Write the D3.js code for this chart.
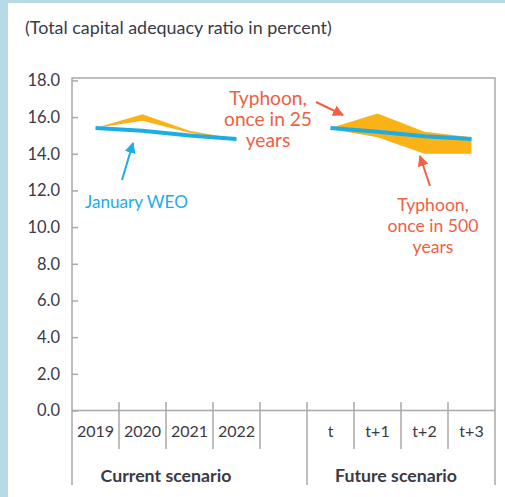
<!DOCTYPE html>
<html><head><meta charset="utf-8">
<script src="https://cdn.jsdelivr.net/npm/d3@7"></script>
<style>html,body{margin:0;padding:0;background:#fff;}svg{display:block;font-family:Lato,"Noto Sans",sans-serif;}</style>
</head><body>
<svg id="c" width="505" height="497"></svg>
<script>
const categories = ["2019","2020","2021","2022","gap","t","t+1","t+2","t+3"];
const catLabels  = ["2019","2020","2021","2022","","t","t+1","t+2","t+3"];
const groups = ["Current scenario","Future scenario"];
const yTicks = [0,2,4,6,8,10,12,14,16,18];
const weoValues      = [15.4, 15.25, 15.0, 14.8, null, 15.4, 15.2, 14.95, 14.8];
const typhoon25      = [15.4, 16.15, 15.25, 14.8, null, 15.4, 16.2, 15.2, 14.9];
const typhoon500     = [15.4, 15.8, 15.15, 14.75, null, 15.35, 14.9, 14.0, 14.0];

const svg = d3.select("#c");
const W=505,H=497;
const L=72,R=495,T=78,B=485;
const y = d3.scaleLinear().domain([0,18]).range([410.5,80.4]);
const x = d3.scaleBand().domain(categories).range([L,R]).padding(0);
const cx = c => x(c)+x.bandwidth()/2;
const grey="#a9a9a9", txt="#3a3a46", orange="#fbb217", blue="#1badE6", red="#ef6045";
const FF="Lato, 'Noto Sans', sans-serif";

svg.append("rect").attr("width",W).attr("height",H).attr("fill","#fff");
svg.append("rect").attr("x",0).attr("y",0).attr("width",8).attr("height",H).attr("fill","#b6dbe7");
svg.append("rect").attr("x",0).attr("y",0).attr("width",W).attr("height",3).attr("fill","#b6dbe7");

function sizeFor(sel,w){const n=sel.node();const m=n.getComputedTextLength();const fs=parseFloat(sel.attr("font-size"));return fs*w/m;}
function fit(sel,w){sel.attr("font-size",sizeFor(sel,w).toFixed(2));}

const title = svg.append("text").attr("x",25).attr("y",28).attr("dy","0.35em").attr("font-size",14).attr("fill",txt).text("(Total capital adequacy ratio in percent)");
fit(title,307);

svg.append("path").attr("d",`M${L},${B}V${T}H${R}V${B}`).attr("fill","none").attr("stroke",grey).attr("stroke-width",1.5);
svg.append("line").attr("x1",L).attr("x2",R).attr("y1",y(0)).attr("y2",y(0)).attr("stroke",grey).attr("stroke-width",1.5);

const ya = svg.append("g").attr("transform",`translate(${L},0)`).call(d3.axisLeft(y).tickValues(yTicks).tickSize(-6).tickPadding(12).tickFormat(d3.format(".1f")));
ya.select(".domain").remove();
ya.selectAll(".tick line").attr("stroke",grey).attr("stroke-width",1.5);
ya.selectAll(".tick text").attr("font-size",16.5).attr("fill",txt).attr("font-family",FF);

const xa = svg.append("g").attr("transform",`translate(0,${y(0)})`).call(d3.axisBottom(x).tickSize(0).tickPadding(15).tickFormat((d,i)=>catLabels[i]));
xa.select(".domain").remove();
xa.selectAll(".tick text").attr("font-size",16).attr("fill",txt).attr("font-family",FF);

categories.forEach((c,i)=>{
  if(i===0) return;
  const long = (c==="t");
  svg.append("line").attr("x1",x(c)).attr("x2",x(c)).attr("y1",402).attr("y2",long?B:449).attr("stroke",grey).attr("stroke-width",1.5);
});

const g1=svg.append("text").attr("x",(x("2019")+x("2022")+x.bandwidth())/2).attr("y",476).attr("dy","0.35em").attr("text-anchor","middle").attr("font-weight","bold").attr("font-size",15).attr("fill",txt).text(groups[0]);
fit(g1,131);
const g2=svg.append("text").attr("x",396).attr("y",476).attr("dy","0.35em").attr("text-anchor","middle").attr("font-weight","bold").attr("font-size",15).attr("fill",txt).text(groups[1]);
fit(g2,122);

const idx = d3.range(categories.length);
const area = d3.area().defined(i=>typhoon25[i]!=null).x(i=>cx(categories[i])).y0(i=>y(typhoon500[i])).y1(i=>y(typhoon25[i]));
svg.append("path").datum(idx).attr("d",area).attr("fill",orange);
const line = d3.line().defined(i=>weoValues[i]!=null).x(i=>cx(categories[i])).y(i=>y(weoValues[i]));
svg.append("path").datum(idx).attr("d",line).attr("fill","none").attr("stroke",blue).attr("stroke-width",4);

const defs=svg.append("defs");
function marker(id,col){defs.append("marker").attr("id",id).attr("viewBox","0 0 10 10").attr("refX",9).attr("refY",5).attr("markerWidth",5.5).attr("markerHeight",5.5).attr("orient","auto").attr("markerUnits","strokeWidth").append("path").attr("d","M0,0L10,5L0,10Z").attr("fill",col);}
marker("ab",blue);marker("ar",red);
function arrow(x1,y1,x2,y2,col,m){svg.append("line").attr("x1",x1).attr("y1",y1).attr("x2",x2).attr("y2",y2).attr("stroke",col).attr("stroke-width",2).attr("marker-end",`url(#${m})`);}
arrow(122,180,133,143,blue,"ab");
arrow(316,102,343,115,red,"ar");
arrow(430,186,420,156,red,"ar");

const jw=svg.append("text").attr("x",136.5).attr("y",202).attr("dy","0.35em").attr("text-anchor","middle").attr("font-size",15).attr("fill",blue).text("January WEO");
fit(jw,103);
function multi(xc,ys,lines,col,refIdx,w){
  const t=svg.append("text").attr("text-anchor","middle").attr("fill",col).attr("font-size",15);
  const sp=lines.map((s,i)=>t.append("tspan").attr("x",xc).attr("y",ys+i*21).attr("dy","0.35em").text(s));
  const m=sp[refIdx].node().getComputedTextLength();
  t.attr("font-size",(15*w/m).toFixed(2));
  return t;
}
multi(268,98.5,["Typhoon,","once in 25","years"],red,1,88);
multi(433,205,["Typhoon,","once in 500","years"],red,1,91);
</script>
</body></html>
